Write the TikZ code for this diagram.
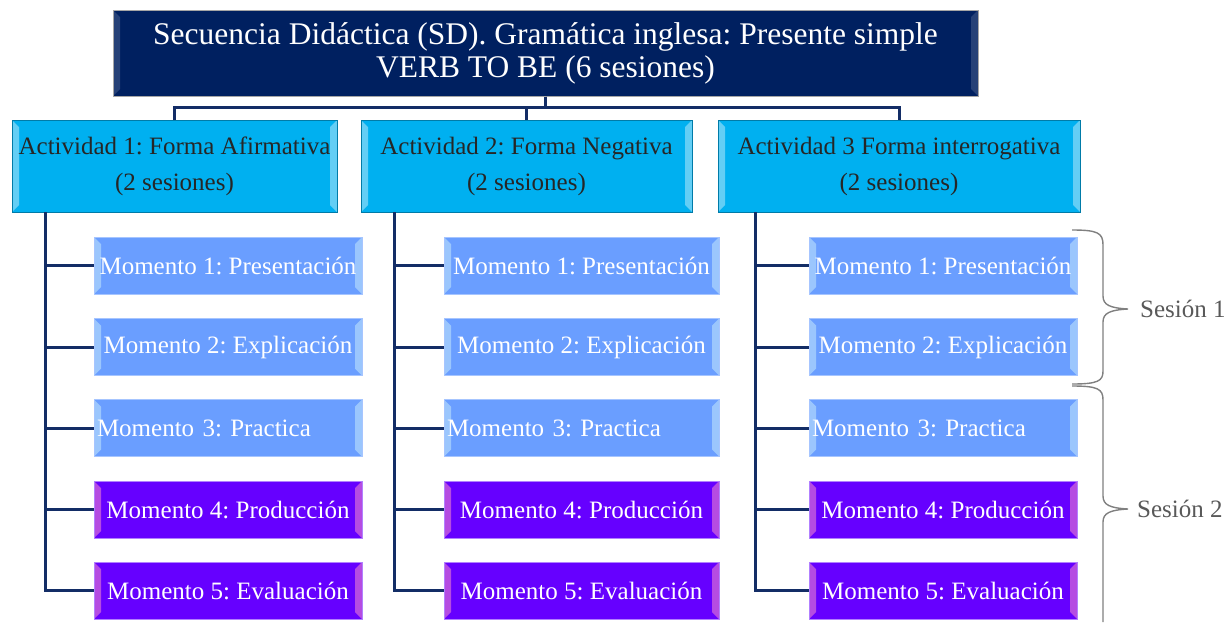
\documentclass[tikz,border=0pt]{standalone}
\usepackage{fontspec}
\setmainfont{Liberation Serif}
\frenchspacing
\usetikzlibrary{calc}
\definecolor{sdnavy}{HTML}{002060}
\definecolor{linknavy}{HTML}{132D66}
\definecolor{actcyan}{HTML}{00B0F0}
\definecolor{momblue}{HTML}{6A9EFF}
\definecolor{momviolet}{HTML}{6600FF}
\definecolor{bracegray}{HTML}{808080}
\tikzset{
  bevel/.style={path picture={
      \fill[#1] (path picture bounding box.north west) -- ([xshift=7pt,yshift=-7pt]path picture bounding box.north west)
        -- ([xshift=7pt,yshift=7pt]path picture bounding box.south west) -- (path picture bounding box.south west) -- cycle;
      \fill[#1] (path picture bounding box.north east) -- ([xshift=-7pt,yshift=-7pt]path picture bounding box.north east)
        -- ([xshift=-7pt,yshift=7pt]path picture bounding box.south east) -- (path picture bounding box.south east) -- cycle;}},
  titlebox/.style={fill=sdnavy, draw=gray!70, line width=1, text=white, align=center, inner sep=0,
      minimum width=865, minimum height=86, font=\fontsize{31.5}{33}\selectfont, bevel={white,opacity=.15}},
  actbox/.style={fill=actcyan, draw=actcyan!70!black, line width=0.8, text=black!85, align=center, inner sep=0,
      minimum height=92, font=\fontsize{25}{36}\selectfont, bevel={cyan!35,opacity=.6}},
  mombox/.style={fill=momblue, draw=momblue!60!white, line width=0.8, text=white, align=center, inner sep=0,
      minimum height=57, font=\fontsize{25}{28}\selectfont, bevel={cyan!20,opacity=.5}},
  prodbox/.style={mombox, fill=momviolet, draw=momviolet!50!white, bevel={magenta!45,opacity=.55}},
  link/.style={draw=linknavy, line width=3},
  sesbrace/.style={draw=bracegray, line width=1.4},
  seslabel/.style={anchor=west, text=black!65, inner sep=0, font=\fontsize{25}{28}\selectfont}
}
\begin{document}
\begin{tikzpicture}[x=1pt,y=-1pt]
  \useasboundingbox (0,0) rectangle (1225,622);

  \node[titlebox] (sd) at (545.5,53) {Secuencia Didáctica (SD). Gramática inglesa: Presente simple\\VERB TO BE (6 sesiones)};

  \node[actbox, minimum width=325] (a1) at (174.5,166) {Actividad 1: Forma Afirmativa\\(2 sesiones)};
  \node[actbox, minimum width=331] (a2) at (526.5,166) {Actividad 2: Forma Negativa\\(2 sesiones)};
  \node[actbox, minimum width=362] (a3) at (899,166) {Actividad 3 Forma interrogativa\\(2 sesiones)};

  \coordinate (fork) at ($(sd.south)+(0,11)$);
  \foreach \act in {a1,a2,a3}
    \draw[link] (sd.south) |- (\act.north |- fork) -- (\act.north);

  % momentos de cada actividad
  \foreach \col/\cx/\bw/\sx in {1/228/268/45, 2/581.5/275/394, 3/943/268/755} {
    \pgfmathsetmacro\tw{\bw-6}
    \node[mombox, minimum width=\bw] (m\col1) at (\cx,265.5) {Momento 1: Presentación};
    \node[mombox, minimum width=\bw] (m\col2) at (\cx,347) {Momento 2: Explicación};
    \node[mombox, minimum width=\bw, text width=\tw pt, align=left] (m\col3) at (\cx,428) {Momento 3: Practica};
    \node[prodbox, minimum width=\bw] (m\col4) at (\cx,509.5) {Momento 4: Producción};
    \node[prodbox, minimum width=\bw] (m\col5) at (\cx,590.5) {Momento 5: Evaluación};
    \coordinate (s\col) at (\sx,0);
    \draw[link] (a\col.south -| s\col) -- (m\col5.west -| s\col) -- (m\col5.west);
    \foreach \m in {1,...,4}
      \draw[link] (m\col\m.west -| s\col) -- (m\col\m.west);
  }

  % sesiones
  \draw[sesbrace] (1072,230) .. controls (1098,230) and (1103,233) .. (1103,245) -- (1103,296)
    .. controls (1103,305) and (1110,308) .. (1128,309) .. controls (1110,310) and (1103,313) .. (1103,322)
    -- (1103,371) .. controls (1103,381) and (1098,384) .. (1072,384);
  \draw[sesbrace] (1072,386) .. controls (1098,386) and (1103,389) .. (1103,400) -- (1103,496)
    .. controls (1103,505) and (1110,508) .. (1128,509) .. controls (1110,510) and (1103,513) .. (1103,522)
    -- (1103,622);
  \node[seslabel] (ses1) at (1140,309) {Sesión 1};
  \node[seslabel] (ses2) at (1137,509) {Sesión 2};
\end{tikzpicture}
\end{document}
